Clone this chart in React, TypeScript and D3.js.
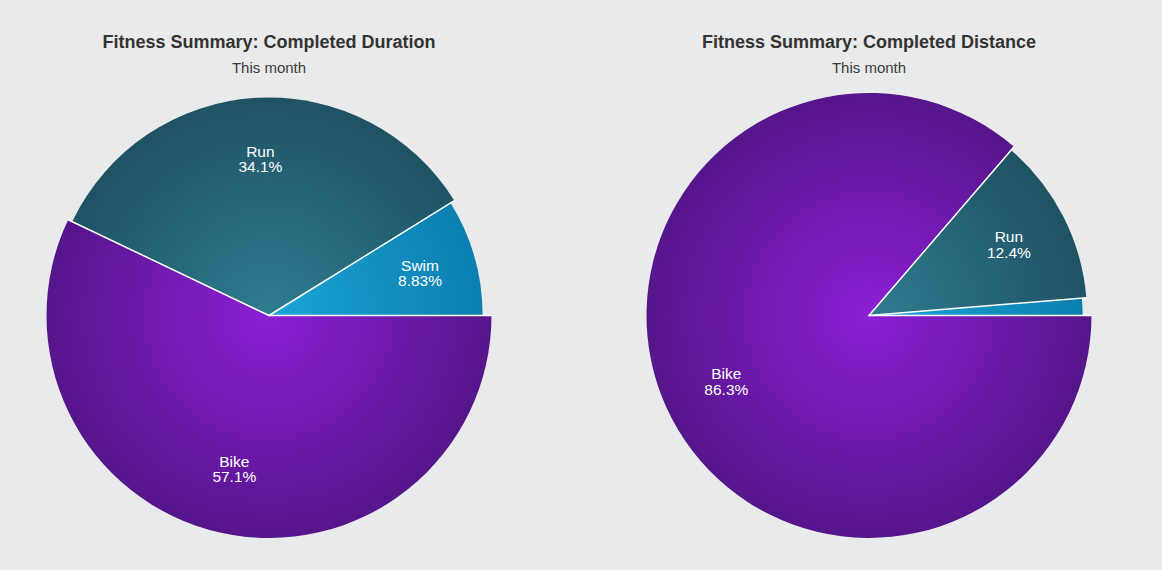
import React, { useEffect, useRef } from 'react';
import * as d3 from 'd3';

// Data
const categories = ['Swim', 'Run', 'Bike'];
const durationShare = [8.83, 34.1, 57.1];
const distanceShare = [1.3, 12.4, 86.3];
const chartTitles = ['Fitness Summary: Completed Duration', 'Fitness Summary: Completed Distance'];
const chartSubtitle = 'This month';

const WIDTH = 1162;
const HEIGHT = 570;
const OUTER_RADIUS = 222.5;
const LABEL_RADIUS = 157;
const FONT = '"Liberation Sans", Arial, Helvetica, sans-serif';

// per-slice fill + radius factor (each category drawn slightly smaller than the next)
const sliceStyle: Record<string, { inner: string; outer: string; scale: number }> = {
  Swim: { inner: '#1ca5d7', outer: '#0a7dae', scale: 0.96 },
  Run: { inner: '#2f7c91', outer: '#1e5263', scale: 0.98 },
  Bike: { inner: '#8c1fd5', outer: '#56158b', scale: 1 },
};

interface Slice {
  name: string;
  value: number;
}

interface PieParams {
  root: d3.Selection<SVGGElement, unknown, null, undefined>;
  cx: number;
  cy: number;
  title: string;
  values: number[];
  idPrefix: string;
}

const radiusOf = (name: string) => OUTER_RADIUS * sliceStyle[name].scale;

const drawPie = ({ root, cx, cy, title, values, idPrefix }: PieParams) => {
  const data: Slice[] = categories.map((name, i) => ({ name, value: values[i] }));

  // Title + subtitle
  root.append('text')
    .attr('x', cx)
    .attr('y', 48)
    .attr('text-anchor', 'middle')
    .attr('font-family', FONT)
    .attr('font-size', '18px')
    .attr('font-weight', 'bold')
    .attr('fill', '#333333')
    .text(title);

  root.append('text')
    .attr('x', cx)
    .attr('y', 73)
    .attr('text-anchor', 'middle')
    .attr('font-family', FONT)
    .attr('font-size', '15px')
    .attr('fill', '#3a3a3a')
    .text(chartSubtitle);

  // Gradients centred on the pie centre
  const defs = root.append('defs');
  categories.forEach(name => {
    const grad = defs.append('radialGradient')
      .attr('id', `${idPrefix}-${name}`)
      .attr('gradientUnits', 'userSpaceOnUse')
      .attr('cx', 0)
      .attr('cy', 0)
      .attr('r', OUTER_RADIUS);
    grad.append('stop').attr('offset', '0%').attr('stop-color', sliceStyle[name].inner);
    grad.append('stop').attr('offset', '100%').attr('stop-color', sliceStyle[name].outer);
  });

  // Counter-clockwise from 3 o'clock
  const pie = d3.pie<Slice>()
    .sort(null)
    .value(d => d.value)
    .startAngle(Math.PI / 2)
    .endAngle(Math.PI / 2 - 2 * Math.PI);

  const arcs = pie(data);

  const arc = d3.arc<d3.PieArcDatum<Slice>>()
    .innerRadius(0)
    .outerRadius(d => radiusOf(d.data.name));

  const labelArc = d3.arc<d3.PieArcDatum<Slice>>()
    .innerRadius(LABEL_RADIUS)
    .outerRadius(LABEL_RADIUS);

  const g = root.append('g').attr('transform', `translate(${cx}, ${cy})`);

  g.selectAll('path')
    .data(arcs)
    .enter()
    .append('path')
    .attr('d', arc)
    .attr('fill', d => `url(#${idPrefix}-${d.data.name})`);

  // white separators along slice edges (length of the larger neighbour)
  g.append('g')
    .attr('class', 'separators')
    .selectAll('line')
    .data(arcs)
    .enter()
    .append('line')
    .attr('x1', 0)
    .attr('y1', 0)
    .attr('x2', (d, i) => {
      const prev = arcs[(i + arcs.length - 1) % arcs.length];
      const r = Math.max(radiusOf(d.data.name), radiusOf(prev.data.name));
      return r * Math.sin(d.startAngle);
    })
    .attr('y2', (d, i) => {
      const prev = arcs[(i + arcs.length - 1) % arcs.length];
      const r = Math.max(radiusOf(d.data.name), radiusOf(prev.data.name));
      return -r * Math.cos(d.startAngle);
    })
    .attr('stroke', '#ffffff')
    .attr('stroke-width', 1.5)
    .attr('stroke-linecap', 'round');

  const fmt = d3.format('.3r');

  const labels = g.selectAll('text.slice-label')
    .data(arcs.filter(d => d.data.value >= 5))
    .enter()
    .append('text')
    .attr('class', 'slice-label')
    .attr('text-anchor', 'middle')
    .attr('font-family', FONT)
    .attr('font-size', '15.5px')
    .attr('fill', '#ffffff')
    .attr('transform', d => {
      const [x, y] = labelArc.centroid(d);
      return `translate(${x}, ${y})`;
    });

  labels.append('tspan')
    .attr('x', 0)
    .attr('y', -2)
    .text(d => d.data.name);

  labels.append('tspan')
    .attr('x', 0)
    .attr('y', 13.5)
    .text(d => `${fmt(d.data.value)}%`);
};

export default function App() {
  const svgRef = useRef<SVGSVGElement>(null);

  useEffect(() => {
    if (!svgRef.current) return;
    const svg = d3.select(svgRef.current);
    svg.selectAll('*').remove();

    svg.append('rect')
      .attr('width', WIDTH)
      .attr('height', HEIGHT)
      .attr('fill', '#e9eaeb');

    const root = svg.append('g') as d3.Selection<SVGGElement, unknown, null, undefined>;

    drawPie({ root, cx: 269, cy: 315.5, title: chartTitles[0], values: durationShare, idPrefix: 'duration' });
    drawPie({ root, cx: 869, cy: 315.5, title: chartTitles[1], values: distanceShare, idPrefix: 'distance' });
  }, []);

  return (
    <svg
      ref={svgRef}
      width={WIDTH}
      height={HEIGHT}
      style={{ position: 'absolute', left: 0, top: 0, display: 'block' }}
    />
  );
}
